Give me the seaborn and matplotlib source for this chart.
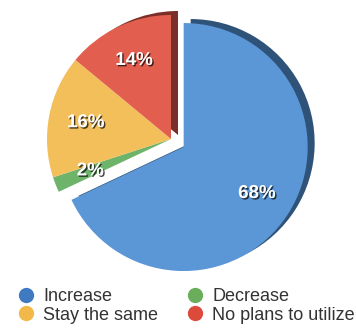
import matplotlib
matplotlib.use("Agg")
import matplotlib.pyplot as plt
import matplotlib.patheffects as pe
from matplotlib.lines import Line2D
import seaborn as sns

# dados (ordem horária a partir do topo)
categorias = ['Increase', 'Decrease', 'Stay the same', 'No plans to utilize']
valores = [68, 2, 16, 14]
cores = ['#5b97d6', '#6db36a', '#f3bf5a', '#e25f50']
cores_lado = ['#2f5378', 'none', 'none', '#7a2f28']
cores_legenda = ['#3f79c1', '#6aae5c', '#f2b84a', '#dc4a3c']
explodir = [15, 0, 0, 0]  # em pixels (eixo em unidades de pixel)

sns.set_theme(style='white')
plt.rcParams['font.family'] = ['Liberation Sans', 'DejaVu Sans']

fig = plt.figure(figsize=(3.56, 3.29), dpi=100)
ax = fig.add_axes([0, 0, 1, 1])

cx, cy, raio = 171, 190, 124

# lado escuro (efeito 3D)
ax.pie(valores, colors=cores_lado, explode=explodir, startangle=90,
       counterclock=False, center=(cx + 7, cy + 4), radius=raio,
       wedgeprops=dict(linewidth=0))

# face
fatias, _, pcts = ax.pie(valores, colors=cores, explode=explodir, startangle=90,
                         counterclock=False, center=(cx, cy), radius=raio,
                         autopct='%d%%', pctdistance=0.7,
                         wedgeprops=dict(linewidth=0))
for t in pcts:
    t.set_color('white')
    t.set_fontsize(13.5)
    t.set_fontweight('bold')
    t.set_path_effects([pe.withSimplePatchShadow(offset=(1, -1), shadow_rgbFace='black', alpha=0.7)])

ax.set_xlim(0, 356)
ax.set_ylim(0, 329)
ax.set_aspect('equal')
ax.axis('off')

# legenda
ordem = [0, 2, 1, 3]
handles = [Line2D([], [], linestyle='none', marker='o', markersize=11,
                  markerfacecolor=cores_legenda[i], markeredgewidth=0) for i in ordem]
fig.legend(handles, [categorias[i] for i in ordem], ncol=2, loc='upper left',
           bbox_to_anchor=(0.048, 0.125), frameon=False, fontsize=13,
           handlelength=1.0, handletextpad=0.45, columnspacing=1.55,
           labelspacing=0.1, borderaxespad=0, borderpad=0,
           labelcolor='#333333')

fig.savefig('out.png', dpi=100)
